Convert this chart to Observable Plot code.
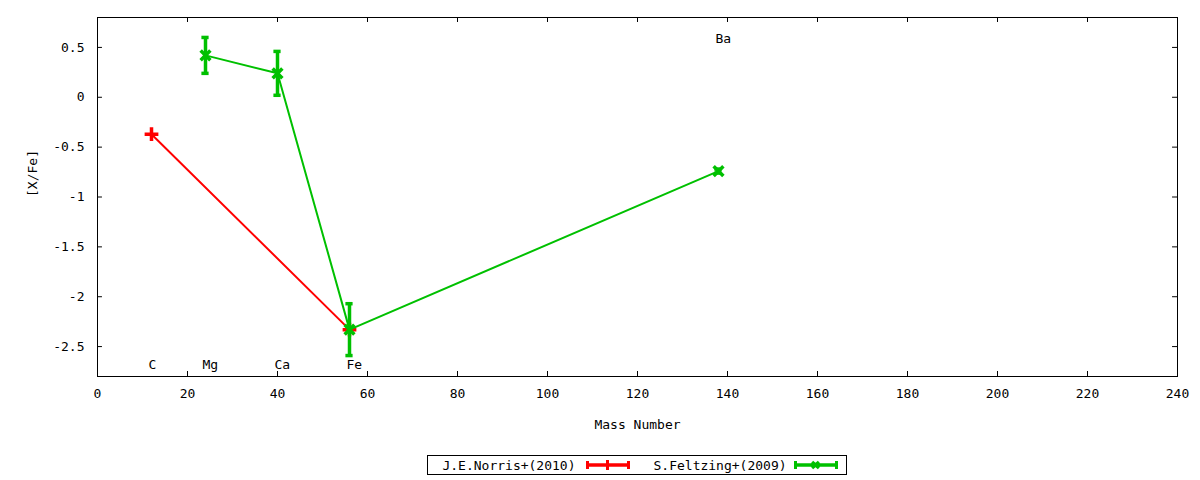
<!DOCTYPE html>
<html>
<head>
<meta charset="utf-8">
<script src="https://cdn.jsdelivr.net/npm/d3@7"></script>
<script src="https://cdn.jsdelivr.net/npm/@observablehq/plot@0.6"></script>
<style>
  body { margin: 0; background: #fff; font-family: "DejaVu Sans Mono", monospace; }
  #legend-wrap { margin-left: 97px; width: 1080px; display: flex; justify-content: center; margin-top: 10px; }
  #legend { display: flex; align-items: center; border: 1px solid #000; height: 18px; padding: 0 8px 0 14px; font-size: 13px; color: #000; }
  #legend span { white-space: pre; }
  #legend svg { display: block; }
</style>
</head>
<body>
<div id="plot"></div>
<div id="legend-wrap"><div id="legend"></div></div>
<script>
// element labels along the mass axis
const elements = ["C", "Mg", "Ca", "Fe", "Ba"];
const masses = [12, 24, 40, 56, 138];
const labelY = [-2.68, -2.68, -2.68, -2.68, 0.59];

// J.E.Norris+(2010)
const norrisElements = ["C", "Fe"];
const norrisXFe = [-0.37, -2.33];

// S.Feltzing+(2009)
const feltzingElements = ["Mg", "Ca", "Fe", "Ba"];
const feltzingXFe = [0.42, 0.24, -2.33, -0.74];
const feltzingErr = [0.18, 0.22, 0.26, 0.02];

const xTicks = [0, 20, 40, 60, 80, 100, 120, 140, 160, 180, 200, 220, 240];
const yTicks = [-2.5, -2, -1.5, -1, -0.5, 0, 0.5];

const red = "#ff0000";
const green = "#00c000";

const massOf = el => masses[elements.indexOf(el)];

const norris = norrisElements.map((el, i) => ({ el, x: massOf(el), y: norrisXFe[i] }));
const feltzing = feltzingElements.map((el, i) => ({
  el, x: massOf(el), y: feltzingXFe[i], lo: feltzingXFe[i] - feltzingErr[i], hi: feltzingXFe[i] + feltzingErr[i]
}));
const labels = elements.map((el, i) => ({ el, x: masses[i], y: labelY[i] }));

const plot = Plot.plot({
  width: 1200,
  height: 445,
  marginLeft: 97,
  marginRight: 23,
  marginTop: 17,
  marginBottom: 69,
  style: {
    fontFamily: "DejaVu Sans Mono, monospace",
    fontSize: "13px",
    color: "#000",
    background: "#fff"
  },
  x: { domain: [0, 240] },
  y: { domain: [-2.8, 0.8] },
  marks: [
    // inward ticks on all four sides
    Plot.ruleX(xTicks, { y1: -2.8, y2: -2.75, stroke: "#000" }),
    Plot.ruleX(xTicks, { y1: 0.8, y2: 0.75, stroke: "#000" }),
    Plot.ruleY(yTicks, { x1: 0, x2: 1.1, stroke: "#000" }),
    Plot.ruleY(yTicks, { x1: 240, x2: 238.9, stroke: "#000" }),
    Plot.axisX({ ticks: xTicks, tickSize: 0, tickPadding: 12, tickFormat: d => String(d), label: null }),
    Plot.axisY({ ticks: yTicks, tickSize: 0, tickPadding: 13, tickFormat: d => String(d), label: null }),
    Plot.text(["Mass Number"], { frameAnchor: "bottom", dy: 52 }),
    Plot.text(["[X/Fe]"], { frameAnchor: "left", dx: -65, rotate: -90 }),

    // element labels
    Plot.text(labels, { x: "x", y: "y", text: "el", textAnchor: "start", dx: -3 }),

    // Norris
    Plot.line(norris, { x: "x", y: "y", stroke: red, strokeWidth: 2 }),
    Plot.dot(norris, { x: "x", y: "y", symbol: "plus", r: 4.5, stroke: red, strokeWidth: 3.5 }),

    // Feltzing
    Plot.line(feltzing, { x: "x", y: "y", stroke: green, strokeWidth: 2 }),
    Plot.ruleX(feltzing, { x: "x", y1: "lo", y2: "hi", stroke: green, strokeWidth: 3.5 }),
    Plot.ruleY(feltzing, { y: "lo", x1: d => d.x - 0.8, x2: d => d.x + 0.8, stroke: green, strokeWidth: 3.5 }),
    Plot.ruleY(feltzing, { y: "hi", x1: d => d.x - 0.8, x2: d => d.x + 0.8, stroke: green, strokeWidth: 3.5 }),
    Plot.dot(feltzing, { x: "x", y: "y", symbol: "times", r: 4.5, stroke: green, strokeWidth: 3.5 }),

    Plot.frame({ stroke: "#000" })
  ]
});

document.getElementById("plot").appendChild(plot);

// legend below the chart
function sample(color, symbol) {
  const mark = symbol === "plus"
    ? `<line x1="21.5" y1="3" x2="21.5" y2="13" stroke="${color}" stroke-width="3"/>`
    : `<path d="M18,5 L25,11 M25,5 L18,11" stroke="${color}" stroke-width="3.5"/>`;
  return `<svg width="44" height="16">
    <line x1="1" y1="8" x2="43" y2="8" stroke="${color}" stroke-width="3.5"/>
    <line x1="1.5" y1="4" x2="1.5" y2="12" stroke="${color}" stroke-width="3"/>
    <line x1="42.5" y1="4" x2="42.5" y2="12" stroke="${color}" stroke-width="3"/>
    ${mark}
  </svg>`;
}
document.getElementById("legend").innerHTML =
  `<span>J.E.Norris+(2010)</span><span style="width:10px"></span>${sample(red, "plus")}` +
  `<span style="width:24px"></span><span>S.Feltzing+(2009)</span><span style="width:7px"></span>${sample(green, "times")}`;
</script>
</body>
</html>
